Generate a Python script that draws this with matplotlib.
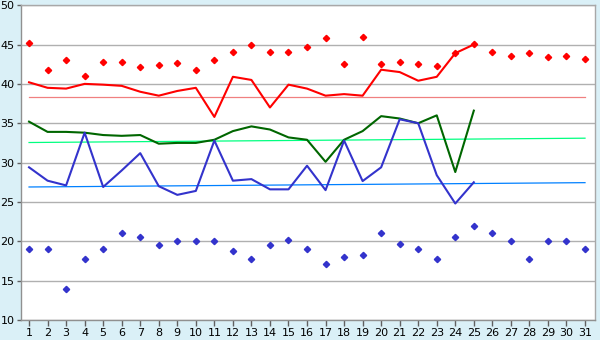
import matplotlib
matplotlib.use("Agg")
import matplotlib.pyplot as plt

days = list(range(1, 32))
line_days = list(range(1, 26))

max_points = [45.2, 41.7, 43.0, 41.0, 42.8, 42.8, 42.2, 42.4, 42.7, 41.7,
              43.0, 44.1, 45.0, 44.0, 44.0, 44.7, 45.8, 42.5, 46.0, 42.5,
              42.8, 42.5, 42.3, 43.9, 45.1, 44.0, 43.5, 43.9, 43.4, 43.5, 43.1]
min_points = [19.0, 19.0, 14.0, 17.8, 19.0, 21.0, 20.6, 19.5, 20.0, 20.0,
              20.0, 18.8, 17.8, 19.5, 20.2, 19.0, 17.1, 18.0, 18.3, 21.1,
              19.6, 19.0, 17.8, 20.6, 22.0, 21.0, 20.0, 17.8, 20.0, 20.0, 19.0]

max_line = [40.2, 39.5, 39.4, 40.0, 39.9, 39.75, 39.0, 38.5, 39.1, 39.5,
            35.8, 40.9, 40.5, 37.0, 39.9, 39.4, 38.5, 38.7, 38.5, 41.8,
            41.5, 40.4, 40.9, 43.9, 45.0]
mean_line = [35.2, 33.9, 33.9, 33.8, 33.5, 33.4, 33.5, 32.4, 32.5, 32.5,
             32.9, 34.0, 34.6, 34.2, 33.2, 32.9, 30.1, 32.9, 34.0, 35.9,
             35.6, 35.0, 36.0, 28.8, 36.6]
min_line = [29.4, 27.7, 27.1, 33.8, 26.9, 29.0, 31.2, 27.0, 25.9, 26.4,
            32.8, 27.7, 27.9, 26.6, 26.6, 29.6, 26.5, 32.8, 27.65, 29.4,
            35.5, 35.0, 28.4, 24.8, 27.5]

trend_days = [1, 31]
max_trend = [38.3, 38.3]
mean_trend = [32.55, 33.1]
min_trend = [26.9, 27.45]

y_ticks = [10, 15, 20, 25, 30, 35, 40, 45, 50]

bg = "#daf0f7"
fig = plt.figure(figsize=(6, 3.4), dpi=100, facecolor=bg)
ax = fig.add_axes([0.0345, 0.0588, 0.9575, 0.926])
ax.set_facecolor("white")

ax.plot(trend_days, max_trend, color="#f08080", lw=0.9, zorder=2)
ax.plot(trend_days, mean_trend, color="#00ff80", lw=0.9, zorder=2)
ax.plot(trend_days, min_trend, color="#0080ff", lw=0.9, zorder=2)

ax.plot(line_days, max_line, color="#ff0000", lw=1.5, zorder=3)
ax.plot(line_days, mean_line, color="#006600", lw=1.5, zorder=3)
ax.plot(line_days, min_line, color="#3333cc", lw=1.5, zorder=3)

ax.plot(days, max_points, ls="none", marker="D", ms=3.2, color="#ff0000", zorder=4)
ax.plot(days, min_points, ls="none", marker="D", ms=3.2, color="#3333cc", zorder=4)

ax.set_xlim(0.55, 31.55)
ax.set_ylim(10, 50)
ax.set_xticks(days)
ax.set_yticks(y_ticks)
ax.set_xticklabels([str(d) for d in days])
ax.set_yticklabels([str(v) for v in y_ticks])
ax.yaxis.grid(True, color="#b0b0b0", lw=1.0)
ax.set_axisbelow(True)
ax.tick_params(axis="both", labelsize=8, color="#606060", length=3, width=1, pad=1.5)
ax.tick_params(axis="x", length=4, pad=2)
for s in ax.spines.values():
    s.set_color("#a8a8a8")
    s.set_linewidth(1.0)
ax.spines["left"].set_color("#909090")
ax.spines["bottom"].set_color("#909090")

fig.savefig("out.png", dpi=100, facecolor=bg)
